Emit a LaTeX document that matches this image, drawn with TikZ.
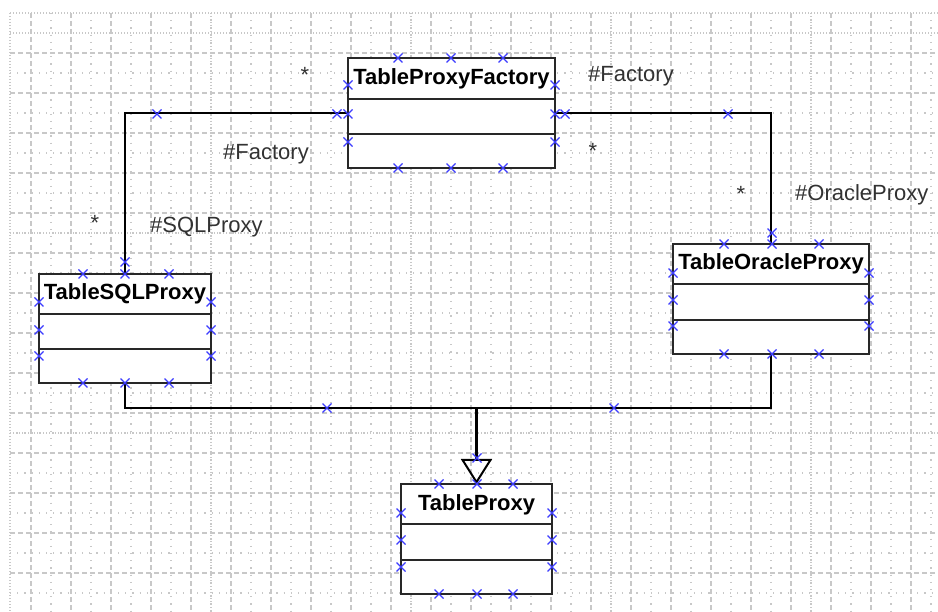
\documentclass[tikz,border=0pt]{standalone}
\usepackage{fontspec}
\setmainfont{Liberation Sans}
\usetikzlibrary{arrows.meta}
\definecolor{gridc}{RGB}{200,200,200}
\definecolor{mkblue}{RGB}{60,60,255}
\definecolor{boxc}{RGB}{40,40,40}
\definecolor{txtc}{RGB}{50,50,50}
\begin{document}
\begin{tikzpicture}[x=1pt,y=-1pt,
  umlbox/.style={draw=boxc, line width=2pt, fill=white, inner sep=0pt, outer sep=0pt},
  ttl/.style={font=\fontsize{22}{26}\selectfont\bfseries, inner sep=0pt, text=black},
  lbl/.style={font=\fontsize{22}{26}\selectfont, inner sep=0pt, text=txtc},
  conn/.style={draw=black, line width=2pt},
  divider/.style={draw=boxc, line width=2pt},
  gmajor/.style={draw=gridc, line width=1.1pt, dash pattern=on 5pt off 3pt},
  gminor/.style={draw=gridc, line width=1.1pt, dash pattern=on 1.2pt off 6pt},
  gdense/.style={draw=gridc, line width=1.1pt, dash pattern=on 1pt off 2pt},
  mk/.pic={\draw[mkblue, line width=1.3pt] (-4.5,-4.5) -- (4.5,4.5) (-4.5,4.5) -- (4.5,-4.5);}
]
\useasboundingbox (0,0) rectangle (938,612);
\fill[white] (0,0) rectangle (938,612);
% grid
\foreach \x in {51,91,...,931} \draw[gminor] (\x,13) -- (\x,612);
\foreach \y in {73,113,...,593} \draw[gminor] (10,\y) -- (938,\y);
\foreach \x in {31,71,...,911} \draw[gmajor] (\x,13) -- (\x,612);
\foreach \y in {53,93,...,573} \draw[gmajor] (10,\y) -- (938,\y);
\foreach \x in {10,211,411,611,811} \draw[gdense] (\x,13) -- (\x,612);
\foreach \y in {13,33,233,433} \draw[gdense] (10,\y) -- (938,\y);

% boxes
\node[umlbox, minimum width=207pt, minimum height=110pt] (fac) at (451.5,113) {};
\node[umlbox, minimum width=172pt, minimum height=109pt] (sql) at (125,328.5) {};
\node[umlbox, minimum width=196pt, minimum height=110pt] (ora) at (771,299) {};
\node[umlbox, minimum width=151pt, minimum height=110pt] (prx) at (476.5,539) {};
\coordinate (j) at (476.5,408);

% connectors
\draw[conn] (fac.west) -| (sql.north);
\draw[conn] (fac.east) -| (ora.north);
\draw[conn] (sql.south) |- (j) -| (ora.south);
\draw[black, line width=3pt, -{Triangle[open, length=25pt, width=31pt, line width=2pt]}] (j) -- (prx.north);

% compartment dividers
\foreach \b/\da/\db in {fac/41/76, sql/40/75, ora/40/76, prx/40/76}{
  \draw[divider] ([yshift=-\da pt]\b.north west) -- ([yshift=-\da pt]\b.north east);
  \draw[divider] ([yshift=-\db pt]\b.north west) -- ([yshift=-\db pt]\b.north east);
}

% titles
\node[ttl, anchor=base] (facT) at ([yshift=-27pt]fac.north) {TableProxyFactory};
\node[ttl, anchor=base] (sqlT) at ([yshift=-26pt]sql.north) {TableSQLProxy};
\node[ttl, anchor=base] (oraT) at ([yshift=-26pt]ora.north) {TableOracleProxy};
\node[ttl, anchor=base] (prxT) at ([yshift=-27pt]prx.north) {TableProxy};

% labels
\node[lbl, anchor=base] (s1) at (305,83) {*};
\node[lbl, anchor=base west] (l1) at (588,82) {\#Factory};
\node[lbl, anchor=base] (s2) at (593,159) {*};
\node[lbl, anchor=base west] (l2) at (223,160) {\#Factory};
\node[lbl, anchor=base] (s3) at (95,231) {*};
\node[lbl, anchor=base west] (l3) at (150,233) {\#SQLProxy};
\node[lbl, anchor=base] (s4) at (741,202) {*};
\node[lbl, anchor=base west] (l4) at (795,201) {\#OracleProxy};

% selection markers
\foreach \p in {(398,58),(451,58),(503,58),(398,168),(451,168),(503,168),
  (348,85),(348,114),(348,142),(555,85),(555,114),(555,142),(337,114),(565,114),
  (157,114),(728,114),
  (83,274),(125,274),(169,274),(125,262),(39,302),(39,330),(39,356),
  (211,302),(211,330),(211,356),(83,383),(125,383),(169,383),
  (327,408),(614,408),
  (724,244),(772,244),(819,244),(772,233),(673,273),(673,300),(673,326),
  (869,273),(869,300),(869,326),(724,354),(772,354),(819,354),
  (439,484),(477,484),(513,484),(477,458),(401,513),(401,540),(401,567),
  (552,513),(552,540),(552,567),(439,594),(477,594),(513,594)}
  \pic at \p {mk};
\end{tikzpicture}
\end{document}
